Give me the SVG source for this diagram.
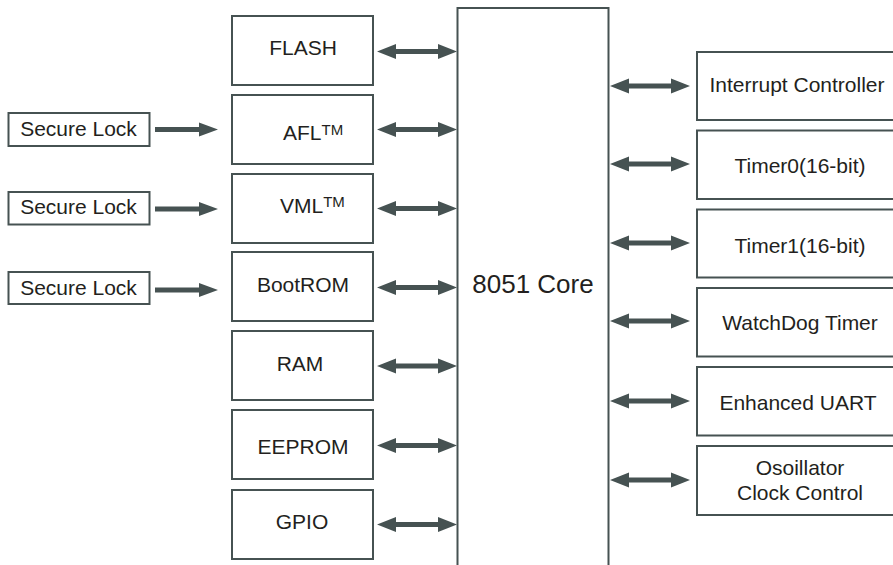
<svg xmlns="http://www.w3.org/2000/svg" width="893" height="565" viewBox="0 0 893 565">
<style>
.box{fill:#fff;stroke:#465252;stroke-width:2}
.open{fill:none;stroke:#465252;stroke-width:2}
.arr{fill:#465252;stroke:none}
.t{font-family:"Liberation Sans",Arial,sans-serif;font-size:21px;fill:#231f20;text-anchor:middle}
.ts{font-family:"Liberation Sans",Arial,sans-serif;font-size:21px;fill:#231f20}
.core{font-family:"Liberation Sans",Arial,sans-serif;font-size:26px;fill:#231f20;text-anchor:middle}
</style>
<defs>
<path id="dbl" d="M0,0 L19,-7.5 L19,-2.5 L61,-2.5 L61,-7.5 L80,0 L61,7.5 L61,2.5 L19,2.5 L19,7.5 Z"/>
<path id="sgl" d="M0,-2.5 L44,-2.5 L44,-7 L63,0 L44,7 L44,2.5 L0,2.5 Z"/>
</defs>
<rect width="893" height="565" fill="#fff"/>

<g id="core">
<path class="open" d="M457.5,566 V8 H608.5 V566"/>
<text class="core" x="533" y="293">8051 Core</text>
</g>

<g id="flash"><rect class="box" x="232" y="16" width="141" height="69"/><text class="t" x="303" y="55">FLASH</text></g>
<g id="afl"><rect class="box" x="232" y="95" width="141" height="69"/><text class="ts" x="283" y="140">AFL<tspan font-size="15" dy="-5">TM</tspan></text></g>
<g id="vml"><rect class="box" x="232" y="174" width="141" height="69"/><text class="ts" x="280" y="213">VML<tspan font-size="15" dy="-6">TM</tspan></text></g>
<g id="bootrom"><rect class="box" x="232" y="252" width="141" height="69"/><text class="t" x="303" y="292">BootROM</text></g>
<g id="ram"><rect class="box" x="232" y="331" width="141" height="69"/><text class="t" x="300" y="371">RAM</text></g>
<g id="eeprom"><rect class="box" x="232" y="410" width="141" height="69"/><text class="t" x="303" y="454">EEPROM</text></g>
<g id="gpio"><rect class="box" x="232" y="490" width="141" height="69"/><text class="t" x="302" y="529">GPIO</text></g>

<g id="lock1"><rect class="box" x="8.5" y="113" width="141" height="33"/><text class="t" x="78.5" y="136">Secure Lock</text></g>
<g id="lock2"><rect class="box" x="8.5" y="192" width="141" height="32.5"/><text class="t" x="78.5" y="214">Secure Lock</text></g>
<g id="lock3"><rect class="box" x="8.5" y="272" width="141" height="32"/><text class="t" x="78.5" y="295">Secure Lock</text></g>

<g id="intc"><path class="open" d="M900,52 H697 V120 H900"/><text class="t" x="797" y="92">Interrupt Controller</text></g>
<g id="timer0"><path class="open" d="M900,130.5 H697 V199 H900"/><text class="t" x="800" y="173">Timer0(16-bit)</text></g>
<g id="timer1"><path class="open" d="M900,209.5 H697 V277.5 H900"/><text class="t" x="800" y="253">Timer1(16-bit)</text></g>
<g id="wdt"><path class="open" d="M900,288 H697 V356.5 H900"/><text class="t" x="800" y="330">WatchDog Timer</text></g>
<g id="uart"><path class="open" d="M900,367 H697 V435.5 H900"/><text class="t" x="798" y="410">Enhanced UART</text></g>
<g id="osc"><path class="open" d="M900,446 H697 V515 H900"/><text class="t" x="800" y="475">Osoillator</text><text class="t" x="800" y="500">Clock Control</text></g>

<g id="connectors" class="arr">
<use href="#dbl" transform="translate(377,51.5)"/>
<use href="#dbl" transform="translate(377,129.5)"/>
<use href="#dbl" transform="translate(377,208.5)"/>
<use href="#dbl" transform="translate(377,287.5)"/>
<use href="#dbl" transform="translate(377,366)"/>
<use href="#dbl" transform="translate(377,445.5)"/>
<use href="#dbl" transform="translate(377,524.5)"/>
<use href="#dbl" transform="translate(610,86)"/>
<use href="#dbl" transform="translate(610,164)"/>
<use href="#dbl" transform="translate(610,243)"/>
<use href="#dbl" transform="translate(610,321)"/>
<use href="#dbl" transform="translate(610,401)"/>
<use href="#dbl" transform="translate(610,480)"/>
<use href="#sgl" transform="translate(155,129.5)"/>
<use href="#sgl" transform="translate(155,209)"/>
<use href="#sgl" transform="translate(155,290)"/>
</g>
</svg>
